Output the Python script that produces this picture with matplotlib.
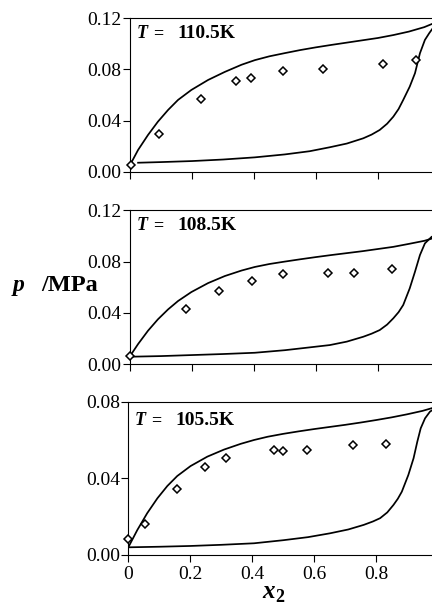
# p-x phase diagrams at three temperatures (experiment vs model)

import matplotlib
matplotlib.use('Agg')
import matplotlib.pyplot as plt

plt.rcParams['font.family'] = ['Liberation Serif', 'DejaVu Serif']

# --- T = 110.5 K ---
exp_x_1105 = [0.002, 0.095, 0.229, 0.341, 0.389, 0.494, 0.624, 0.817, 0.924]
exp_p_1105 = [0.0055, 0.0297, 0.0571, 0.0712, 0.0730, 0.0790, 0.0801, 0.0843, 0.0871]
bub_x_1105 = [0.0, 0.026, 0.058, 0.09, 0.123, 0.155, 0.198, 0.252, 0.306, 0.36,
              0.403, 0.45, 0.5, 0.55, 0.6, 0.65, 0.7, 0.75, 0.8, 0.85, 0.9,
              0.95, 0.975, 1.0]
bub_p_1105 = [0.0052, 0.017, 0.0287, 0.0391, 0.0483, 0.0561, 0.0639, 0.0717,
              0.0780, 0.0836, 0.0872, 0.0902, 0.0927, 0.0951, 0.0972, 0.0991,
              0.1009, 0.1027, 0.1045, 0.1068, 0.1095, 0.113, 0.1155, 0.118]
dew_x_1105 = [0.026, 0.1, 0.2, 0.3, 0.403, 0.5, 0.58, 0.645, 0.70, 0.753, 0.78,
              0.806, 0.83, 0.85, 0.867, 0.882, 0.903, 0.92, 0.936, 0.952, 0.966,
              0.98, 1.0]
dew_p_1105 = [0.0070, 0.0075, 0.0083, 0.0095, 0.0112, 0.0135, 0.016, 0.0191,
              0.022, 0.0261, 0.029, 0.0326, 0.0375, 0.043, 0.049, 0.0561, 0.0665,
              0.077, 0.0926, 0.103, 0.1083, 0.113, 0.118]

# --- T = 108.5 K ---
exp_x_1085 = [0.0, 0.180, 0.287, 0.394, 0.493, 0.640, 0.724, 0.847]
exp_p_1085 = [0.0062, 0.0427, 0.0569, 0.0651, 0.0703, 0.0711, 0.0711, 0.0744]
bub_x_1085 = [0.0, 0.026, 0.058, 0.09, 0.123, 0.155, 0.198, 0.252, 0.306, 0.36,
              0.403, 0.45, 0.5, 0.55, 0.6, 0.65, 0.7, 0.75, 0.8, 0.85, 0.9,
              0.95, 0.975, 1.0]
bub_p_1085 = [0.0062, 0.0156, 0.026, 0.0349, 0.0427, 0.0492, 0.0562, 0.0632,
              0.0687, 0.0730, 0.0758, 0.0781, 0.0800, 0.0818, 0.0835, 0.0851,
              0.0866, 0.0881, 0.0898, 0.0915, 0.0938, 0.0962, 0.098, 0.1005]
dew_x_1085 = [0.0, 0.1, 0.2, 0.3, 0.403, 0.5, 0.58, 0.645, 0.7, 0.753, 0.78,
              0.806, 0.83, 0.85, 0.867, 0.882, 0.903, 0.92, 0.936, 0.952, 0.974, 1.0]
dew_p_1085 = [0.0057, 0.0062, 0.007, 0.0078, 0.0088, 0.0108, 0.013, 0.0148,
              0.0175, 0.0213, 0.0237, 0.0265, 0.0308, 0.0357, 0.0405, 0.0461,
              0.0591, 0.0721, 0.0851, 0.0942, 0.0994, 0.1005]

# --- T = 105.5 K ---
exp_x_1055 = [0.0, 0.055, 0.156, 0.249, 0.314, 0.471, 0.501, 0.577, 0.724, 0.831]
exp_p_1055 = [0.0083, 0.0163, 0.0346, 0.0457, 0.0508, 0.0548, 0.0543, 0.0548,
              0.0572, 0.0577]
bub_x_1055 = [0.0, 0.029, 0.061, 0.094, 0.126, 0.158, 0.201, 0.255, 0.309, 0.363,
              0.406, 0.45, 0.5, 0.55, 0.6, 0.65, 0.7, 0.75, 0.8, 0.85, 0.9,
              0.95, 0.98, 1.0]
bub_p_1055 = [0.0040, 0.013, 0.0218, 0.0296, 0.036, 0.0412, 0.0464, 0.0513,
              0.0550, 0.0580, 0.0600, 0.0617, 0.0632, 0.0645, 0.0657, 0.0668,
              0.0679, 0.0691, 0.0704, 0.0718, 0.0734, 0.0752, 0.0766, 0.0775]
dew_x_1055 = [0.0, 0.1, 0.2, 0.3, 0.406, 0.5, 0.58, 0.651, 0.71, 0.76, 0.79,
              0.813, 0.836, 0.856, 0.87, 0.883, 0.904, 0.921, 0.933, 0.944,
              0.958, 0.974, 1.0]
dew_p_1055 = [0.0040, 0.0043, 0.0047, 0.0053, 0.0061, 0.0077, 0.0093, 0.0113,
              0.0133, 0.0157, 0.0175, 0.0192, 0.0222, 0.0261, 0.0293, 0.033,
              0.0417, 0.0505, 0.0591, 0.0661, 0.0713, 0.0748, 0.0775]

temps = ['110.5K', '108.5K', '105.5K']
y_max = [0.12, 0.12, 0.08]
y_ticks = [[0.0, 0.04, 0.08, 0.12], [0.0, 0.04, 0.08, 0.12], [0.0, 0.04, 0.08]]
x_ticks = [0, 0.2, 0.4, 0.6, 0.8]
x_ticklabels = ['0', '0.2', '0.4', '0.6', '0.8']

panels = [
    (exp_x_1105, exp_p_1105, bub_x_1105, bub_p_1105, dew_x_1105, dew_p_1105),
    (exp_x_1085, exp_p_1085, bub_x_1085, bub_p_1085, dew_x_1085, dew_p_1085),
    (exp_x_1055, exp_p_1055, bub_x_1055, bub_p_1055, dew_x_1055, dew_p_1055),
]

fig = plt.figure(figsize=(4.32, 6.06), dpi=100)

# axes positions: the right part of each frame lies outside the picture
boxes = [[0.301, 0.7167, 0.717, 0.2533],
         [0.301, 0.3993, 0.717, 0.2536],
         [0.297, 0.0842, 0.717, 0.2530]]

for i, (ex, ep, bx, bp, dx, dp) in enumerate(panels):
    ax = fig.add_axes(boxes[i])
    ax.plot(bx, bp, color='black', lw=1.25)
    ax.plot(dx, dp, color='black', lw=1.25)
    ax.plot(ex, ep, linestyle='none', marker='D', ms=4.3, mfc='white',
            mec='black', mew=1.1, clip_on=False, zorder=5)

    ax.set_xlim(0, 1)
    ax.set_ylim(0, y_max[i])
    ax.set_yticks(y_ticks[i])
    ax.set_yticklabels(['%.2f' % v for v in y_ticks[i]])
    ax.set_xticks(x_ticks)
    if i == 2:
        ax.set_xticklabels(x_ticklabels)
    else:
        ax.set_xticklabels([])
    ax.tick_params(direction='out', length=5, width=0.8, labelsize=14, pad=1)
    ax.tick_params(axis='x', pad=3)
    for s in ax.spines.values():
        s.set_linewidth(0.8)

    # temperature label: italic T, then the value
    yl = y_max[i] * (0.872 if i < 2 else 0.845)
    ax.text(0.02, yl, 'T', fontsize=13, fontweight='bold', fontstyle='italic',
            va='baseline')
    ax.text(0.074, yl, '=', fontsize=13, fontweight='bold', va='baseline')
    ax.text(0.153, yl, temps[i], fontsize=14, fontweight='bold', va='baseline')

# axis titles
fig.text(13 / 432, 1 - 291 / 606, 'p', fontsize=17, fontweight='bold',
         fontstyle='italic', va='baseline')
fig.text(41 / 432, 1 - 291 / 606, '/MPa', fontsize=17.5, fontweight='bold',
         va='baseline')
fig.text(262 / 432, 1 - 598 / 606, 'x', fontsize=18, fontweight='bold',
         fontstyle='italic', va='baseline')
fig.text(275 / 432, 1 - 602 / 606, '2', fontsize=13, fontweight='bold',
         va='baseline')

fig.savefig('out.png', dpi=100)
